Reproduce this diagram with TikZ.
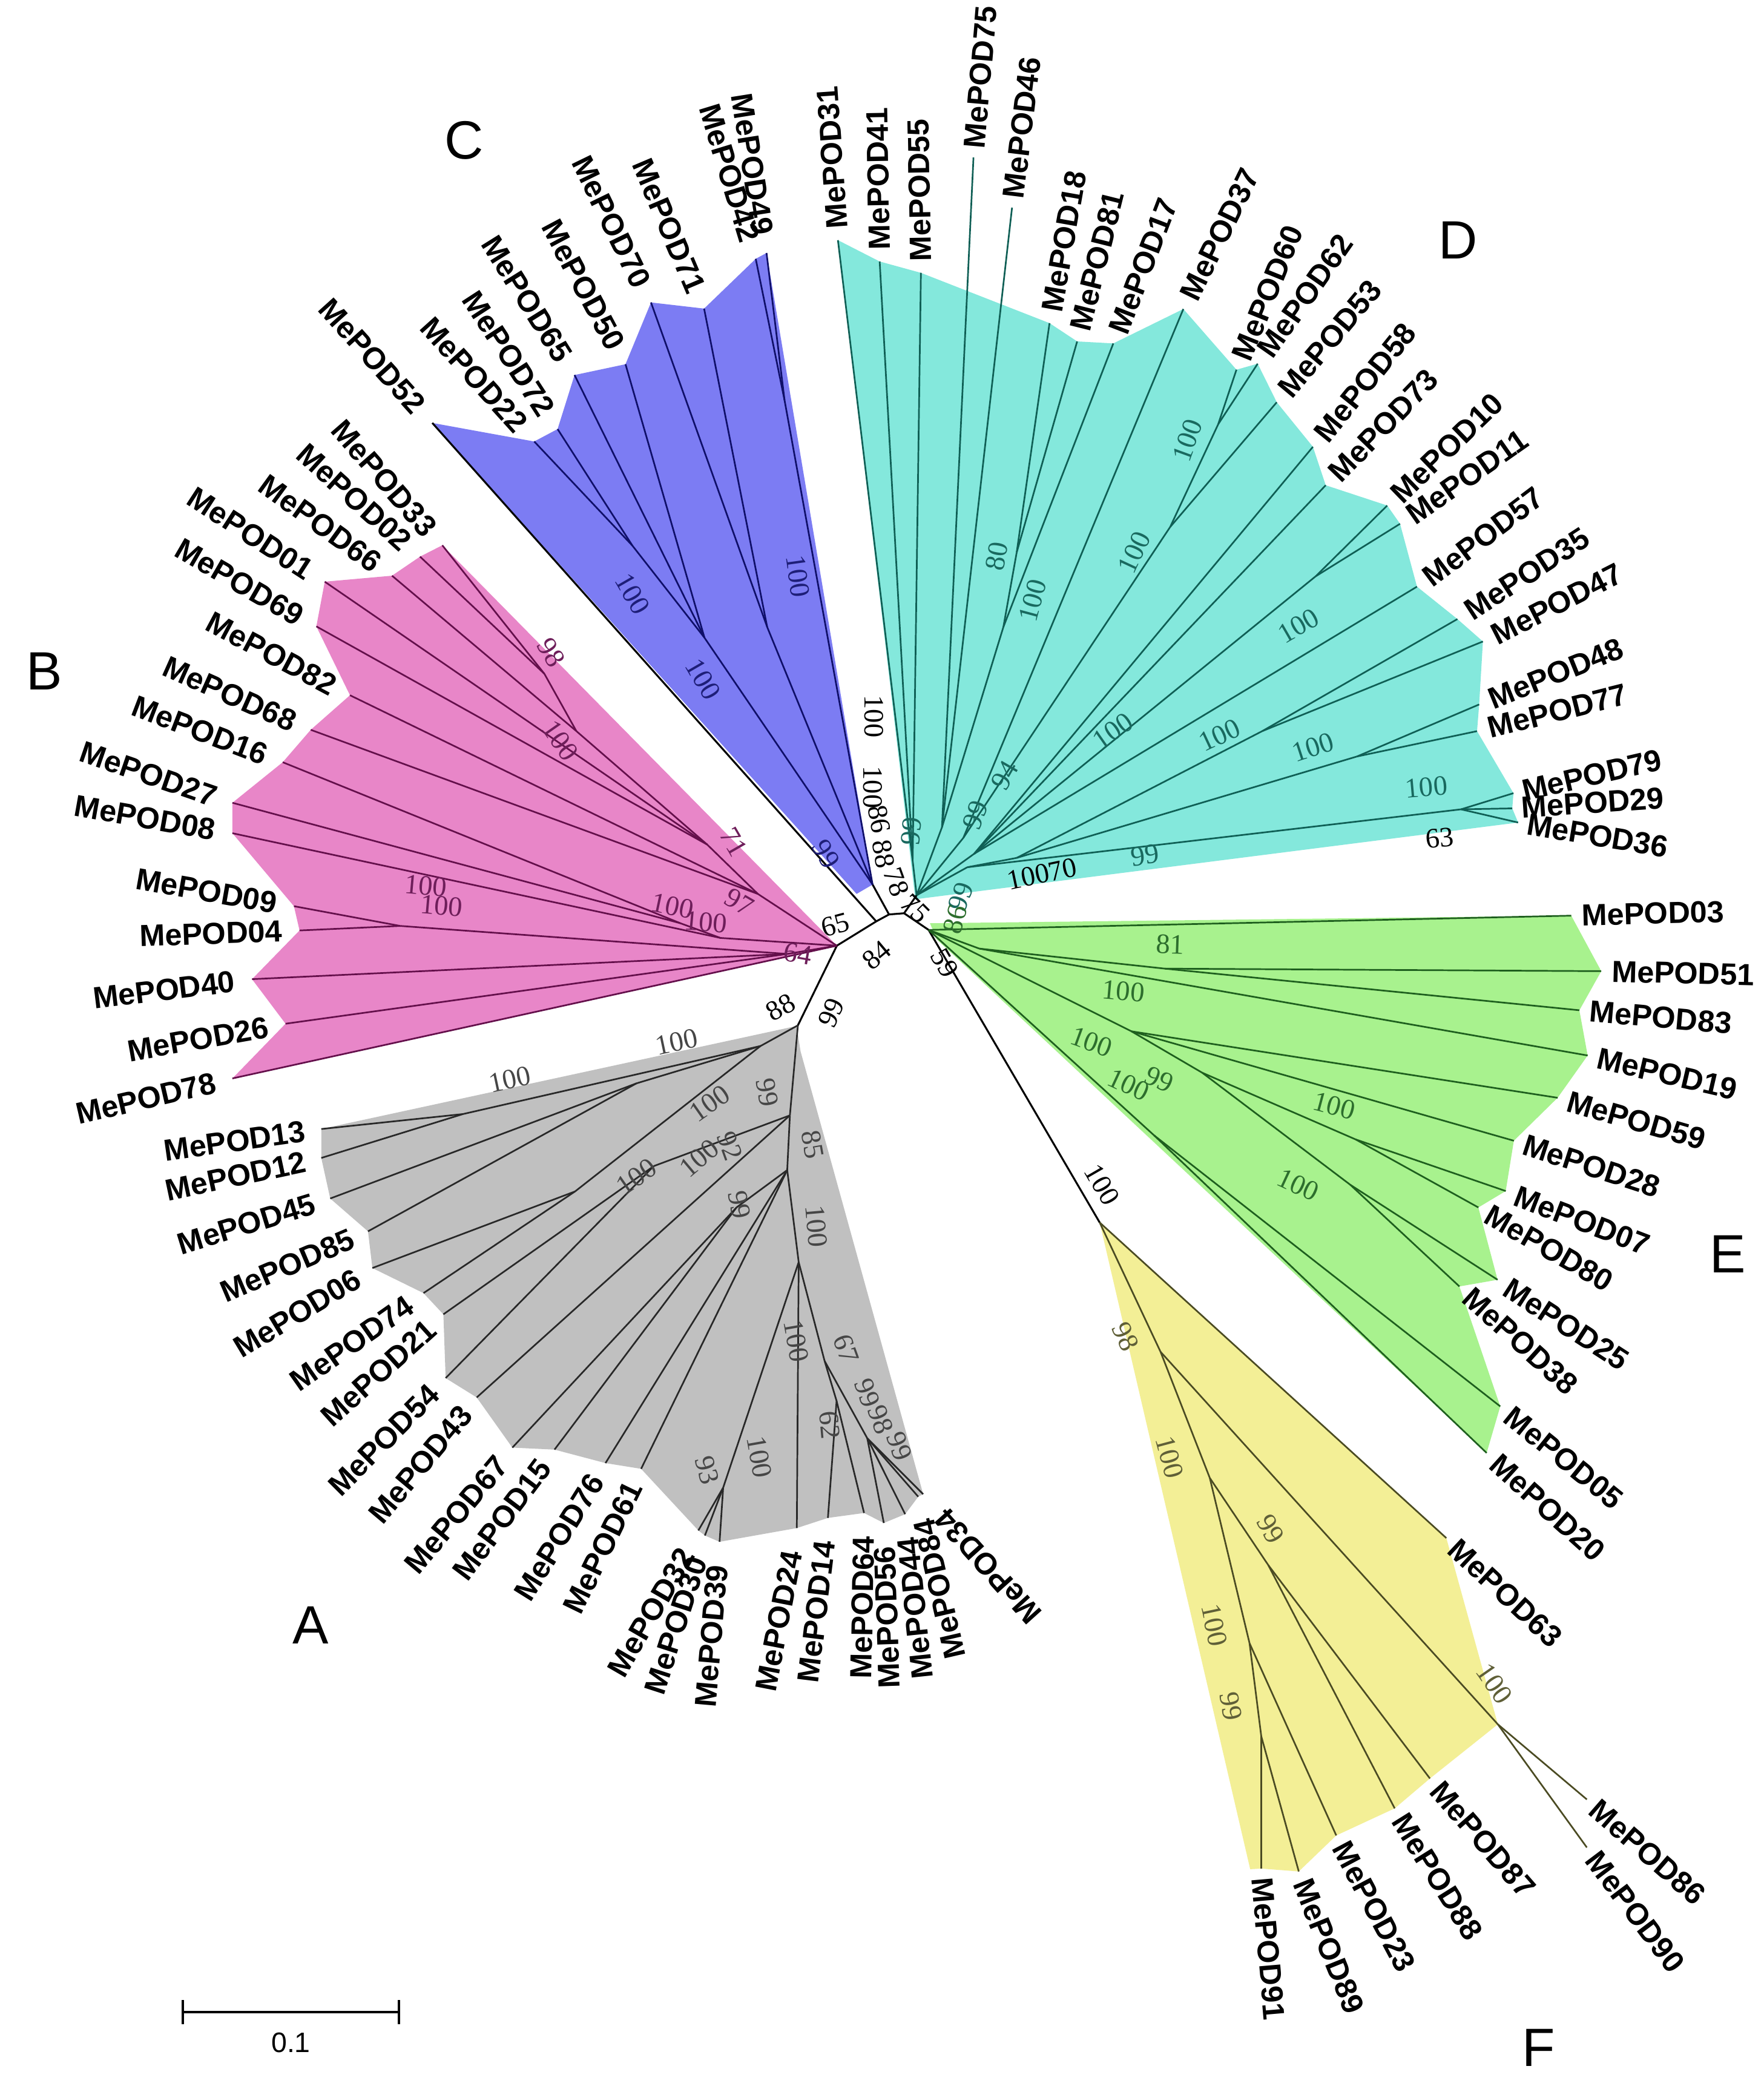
\documentclass[tikz,border=0pt]{standalone}
\usepackage{fontspec}
\setmainfont{Liberation Serif}
\newfontfamily\lsans{Liberation Sans}
\pgfdeclarelayer{bgfill}
\pgfdeclarelayer{branches}
\pgfsetlayers{bgfill,branches,main}
\definecolor{fillA}{RGB}{192,192,192}
\definecolor{fillB}{RGB}{232,134,200}
\definecolor{fillC}{RGB}{124,124,243}
\definecolor{fillD}{RGB}{132,232,220}
\definecolor{fillE}{RGB}{168,242,142}
\definecolor{fillF}{RGB}{243,239,150}
\definecolor{lnA}{RGB}{40,40,40}
\definecolor{lnB}{RGB}{100,15,75}
\definecolor{lnC}{RGB}{15,15,105}
\definecolor{lnD}{RGB}{15,95,85}
\definecolor{lnE}{RGB}{30,95,30}
\definecolor{lnF}{RGB}{75,75,35}
\definecolor{txA}{RGB}{70,70,70}
\definecolor{txB}{RGB}{110,30,90}
\definecolor{txC}{RGB}{30,30,120}
\definecolor{txD}{RGB}{25,105,95}
\definecolor{txE}{RGB}{45,110,45}
\definecolor{txF}{RGB}{95,95,55}
\tikzset{
 tiplab/.style={font=\lsans\bfseries\fontsize{13}{15}\selectfont,inner sep=2pt},
 bslab/.style={font=\fontsize{12}{14}\selectfont,inner sep=0pt},
 grplab/.style={font=\lsans\fontsize{23}{26}\selectfont,inner sep=0pt},
 brA/.style={draw=lnA,line width=0.7pt},
 brB/.style={draw=lnB,line width=0.7pt},
 brC/.style={draw=lnC,line width=0.7pt},
 brD/.style={draw=lnD,line width=0.7pt},
 brE/.style={draw=lnE,line width=0.7pt},
 brF/.style={draw=lnF,line width=0.7pt},
 brK/.style={draw=black,line width=0.8pt},
}
\newcommand{\tipW}[5]{\coordinate (t#1) at (#2,#3);\node[tiplab,rotate=#4,anchor=west,outer sep=#5] (L#1) at (t#1) {MePOD#1};}
\newcommand{\tipE}[5]{\coordinate (t#1) at (#2,#3);\node[tiplab,rotate=#4,anchor=east,outer sep=#5] (L#1) at (t#1) {MePOD#1};}
\newcommand{\bsl}[6]{\node[bslab,text=#5,rotate=#4] (#1) at (#2,#3) {#6};}
\newcommand{\edg}[2]{\foreach \ua/\ub in {#2}{\draw[#1] (\ua) -- (\ub);}}
\begin{document}
\begin{tikzpicture}[x=0.02cm,y=-0.02cm]
\begin{pgfonlayer}{bgfill}
\fill[white] (0,0) rectangle (1322,1568);
\end{pgfonlayer}
\useasboundingbox (0,0) rectangle (1322,1568);

% ---------- internal nodes ----------
\coordinate (nA) at (598,768.5);
\coordinate (nB) at (627.2,708.8);
\coordinate (n2) at (656.7,690.6);
\coordinate (n3) at (666.3,685.4);
\coordinate (cR) at (654,663);
\coordinate (n4) at (677.6,684.5);
\coordinate (dR) at (687,671);
\coordinate (n5) at (696,697);
\coordinate (fR) at (824.2,916.3);
% A
\coordinate (aN2) at (570,784);
\coordinate (a12) at (347,835);
\coordinate (aP) at (477,812);
\coordinate (aQ) at (431,893);
\coordinate (aX) at (592,836);
\coordinate (aR) at (490,874);
\coordinate (aY) at (590,877);
\coordinate (aS) at (552,905);
\coordinate (aZ) at (598.6,946);
\coordinate (a93) at (542,1115);
\coordinate (aW) at (618,1020);
\coordinate (aV) at (627,1050);
\coordinate (aU) at (650,1078);
\coordinate (aTop) at (597,769);
\coordinate (aRt) at (600,788);
% B
\coordinate (bA) at (408,505);
\coordinate (bB) at (432,548);
\coordinate (bC) at (530,633);
\coordinate (bD) at (568,670);
\coordinate (bE) at (510,692);
\coordinate (bF) at (540,703);
\coordinate (bG) at (590,715);
\coordinate (b9) at (300,694);
% C
\coordinate (cA) at (474,409);
\coordinate (cB) at (528,478);
\coordinate (cF) at (575,470);
\coordinate (cG) at (588,300);
\coordinate (cL) at (642,670);
% D
\coordinate (dA) at (684,645);
\coordinate (dB) at (706,620);
\coordinate (dN) at (752,470);
\coordinate (dC) at (762,414);
\coordinate (dE) at (722,628);
\coordinate (dM) at (877,395);
\coordinate (dF) at (913,318);
\coordinate (dG) at (730,640);
\coordinate (dH) at (986,432);
\coordinate (dQ) at (725,650);
\coordinate (dK) at (1095,606.6);
\coordinate (dR2) at (762,643);
\coordinate (dO) at (946,548);
\coordinate (dP) at (1017,567);
\coordinate (dBot) at (686,674);
% E
\coordinate (eB) at (734,711);
\coordinate (eA) at (873,726);
\coordinate (eD) at (848,773);
\coordinate (eE) at (901,804);
\coordinate (eF) at (1016,854);
\coordinate (eG) at (1012,888);
\coordinate (eH) at (865,851);
\coordinate (eTop) at (697,692);
\coordinate (eBot) at (702,704);
% F
\coordinate (fA) at (869.8,1013.2);
\coordinate (fB) at (1122.6,1292.4);
\coordinate (fC) at (906.7,1107.7);
\coordinate (fD) at (950.5,1173);
\coordinate (fE) at (936.5,1231.6);
\coordinate (fF) at (945.3,1301.4);
\coordinate (fL) at (937,1401);

% ---------- tips: A ----------
\tipE{13}{240.8}{846.2}{8}{5pt}
\tipE{12}{240.8}{867.9}{12}{5pt}
\tipE{45}{247.5}{898.3}{17}{5pt}
\tipE{85}{275.8}{922.9}{23}{5pt}
\tipE{06}{279.1}{950.4}{31}{5pt}
\tipE{74}{317.4}{969.2}{35}{5pt}
\tipE{21}{332.3}{985.1}{42}{5pt}
\tipE{54}{334}{1032.9}{45}{5pt}
\tipE{43}{357.3}{1047.4}{50}{5pt}
\tipE{67}{384}{1085}{50}{5pt}
\tipE{15}{415.6}{1086.5}{53}{5pt}
\tipE{76}{453.8}{1096.6}{58}{5pt}
\tipE{61}{480.5}{1100.9}{64}{5pt}
\tipE{32}{523.4}{1147.1}{60}{8pt}
\tipE{30}{528.3}{1150.9}{72}{8pt}
\tipE{39}{539.3}{1155.6}{85}{8pt}
\tipE{24}{597.2}{1145.3}{79}{8pt}
\tipE{14}{620.5}{1137.7}{83}{8pt}
\tipE{64}{647.6}{1134}{89}{8pt}
\tipE{56}{662.4}{1141.5}{92}{8pt}
\tipE{44}{678.4}{1134.9}{96}{8pt}
\tipE{84}{688.2}{1121.8}{103}{8pt}
\tipE{34}{691.9}{1119.9}{132}{9pt}
% ---------- tips: B ----------
\tipE{33}{331.5}{408.7}{-49}{5.5pt}
\tipE{02}{314.8}{417.2}{-42}{5.5pt}
\tipE{66}{293.8}{431.5}{-36}{5.5pt}
\tipE{01}{243.4}{436}{-33}{5.5pt}
\tipE{69}{237.1}{469.5}{-30}{5.5pt}
\tipE{82}{262.3}{521.1}{-28}{5.5pt}
\tipE{68}{232.9}{547}{-24}{5.5pt}
\tipE{16}{211.9}{571.3}{-21}{5.5pt}
\tipE{27}{174.2}{601.7}{-19}{5.5pt}
\tipE{08}{174.2}{624.5}{-10}{5.5pt}
\tipE{09}{220.3}{679.2}{-10}{5.5pt}
\tipE{04}{224.5}{697.4}{2}{5.5pt}
\tipE{40}{188.9}{733.9}{7}{5.5pt}
\tipE{26}{214}{767.3}{10}{5.5pt}
\tipE{78}{174.2}{808.3}{13}{5.5pt}
% ---------- tips: C ----------
\tipE{52}{324}{317}{-48}{6pt}
\tipE{22}{400.4}{330.9}{-48}{6pt}
\tipE{72}{417.9}{321.6}{-57}{6pt}
\tipE{65}{430.6}{281.1}{-58}{6pt}
\tipE{50}{468.8}{273}{-62}{6pt}
\tipE{70}{487.9}{226.7}{-64}{6pt}
\tipE{71}{527.7}{231.3}{-67}{6pt}
\tipE{42}{566.4}{194}{-73}{6pt}
\tipE{49}{574.5}{189.6}{-81}{6pt}
% ---------- tips: D ----------
\tipW{31}{628}{180}{94}{3pt}
\tipW{41}{659.3}{196}{91}{3pt}
\tipW{55}{690.2}{204.5}{91}{3pt}
\tipW{75}{729.6}{118}{85}{2pt}
\tipW{46}{758.5}{155.6}{83}{2pt}
\tipW{18}{786.6}{242.2}{80}{3pt}
\tipW{81}{807.3}{255.9}{76}{3pt}
\tipW{17}{834.4}{257.4}{69}{3pt}
\tipW{37}{886.9}{231.6}{64}{3pt}
\tipW{60}{926.7}{277.1}{68}{3pt}
\tipW{62}{942.6}{272.6}{55}{3pt}
\tipW{53}{956.9}{301.5}{50}{3pt}
\tipW{58}{984}{334.9}{51}{3pt}
\tipW{73}{993.6}{363.7}{46}{3pt}
\tipW{10}{1039.7}{378.9}{44}{3pt}
\tipW{11}{1049.3}{392.6}{35}{3pt}
\tipW{57}{1062}{439.7}{37}{3pt}
\tipW{35}{1092.3}{464}{33}{3pt}
\tipW{47}{1111.4}{480.8}{27}{3pt}
\tipW{48}{1108.6}{528}{22}{3pt}
\tipW{77}{1107}{548}{14}{3pt}
\tipW{79}{1134.3}{594.5}{13}{2pt}
\tipW{29}{1133.4}{605.9}{4}{2pt}
\tipW{36}{1137.8}{616.5}{-9.5}{2pt}
% ---------- tips: E ----------
\tipW{03}{1177.6}{686.3}{1.5}{2.5pt}
\tipW{51}{1200.1}{727.9}{-1.5}{2.5pt}
\tipW{83}{1183.7}{757.2}{-5}{2.5pt}
\tipW{19}{1189.9}{791.1}{-13}{2.5pt}
\tipW{59}{1167.4}{822.8}{-16}{2.5pt}
\tipW{28}{1134.6}{855}{-18}{2.5pt}
\tipW{07}{1128.5}{892.7}{-21}{2.5pt}
\tipW{80}{1108}{905}{-30}{2.5pt}
\tipW{25}{1122.4}{959.2}{-33}{2.5pt}
\tipW{38}{1093.8}{964.2}{-42}{2.5pt}
\tipW{05}{1124.4}{1054.1}{-39}{2.5pt}
\tipW{20}{1114.2}{1089}{-42}{2.5pt}
% ---------- tips: F ----------
\tipW{63}{1084}{1152.8}{-43}{2pt}
\tipW{86}{1189.3}{1348.7}{-41}{2pt}
\tipW{90}{1189.3}{1384.7}{-53}{2pt}
\tipW{87}{1071.7}{1333}{-49}{2pt}
\tipW{88}{1045.3}{1355.4}{-58}{2pt}
\tipW{23}{1001.5}{1375.7}{-62}{2pt}
\tipW{89}{973.4}{1402.7}{-68}{2pt}
\tipW{91}{945.3}{1400.5}{-85}{2pt}

% ---------- clade fills ----------
\begin{pgfonlayer}{bgfill}
\fill[fillA] (aTop) -- (t13) -- (t12) -- (t45) -- (t85) -- (t06) -- (t74) -- (t21) -- (t54) -- (t43) -- (t67) -- (t15) -- (t76) -- (t61) -- (t32) -- (t30) -- (t39) -- (t24) -- (t14) -- (t64) -- (t56) -- (t44) -- (t84) -- (t34) -- (aRt) -- cycle;
\fill[fillB] (nB) -- (t33) -- (t02) -- (t66) -- (t01) -- (t69) -- (t82) -- (t68) -- (t16) -- (t27) -- (t08) -- (t09) -- (t04) -- (t40) -- (t26) -- (t78) -- cycle;
\fill[fillC] (t52) -- (t22) -- (t72) -- (t65) -- (t50) -- (t70) -- (t71) -- (t42) -- (t49) -- (cR) -- (cL) -- cycle;
\fill[fillD] (dBot) -- (t31) -- (t41) -- (t55) -- (t18) -- (t81) -- (t17) -- (t37) -- (t60) -- (t62) -- (t53) -- (t58) -- (t73) -- (t10) -- (t11) -- (t57) -- (t35) -- (t47) -- (t48) -- (t77) -- (t79) -- (t29) -- (t36) -- cycle;
\fill[fillE] (eTop) -- (t03) -- (t51) -- (t83) -- (t19) -- (t59) -- (t28) -- (t07) -- (t80) -- (t25) -- (t38) -- (t05) -- (t20) -- (eBot) -- cycle;
\fill[fillF] (fR) -- (t63) -- (fB) -- (t87) -- (t88) -- (t23) -- (t89) -- (t91) -- (fL) -- cycle;
\end{pgfonlayer}

% ---------- branches ----------
\begin{pgfonlayer}{branches}
\edg{brK}{nA/nB,nB/n2,n2/n3,n3/cR,n3/n4,n4/dR,n4/n5,n5/fR,n2/t52}
\edg{brA}{nA/aN2,aN2/a12,a12/t13,a12/t12,aN2/aP,aP/t45,aP/t85,aN2/aQ,aQ/t06,aQ/t74,
 nA/aX,aX/aR,aR/t21,aR/t54,aX/t43,aX/aY,aY/aS,aS/t67,aS/t15,aY/t76,aY/t61,
 aY/aZ,aZ/a93,a93/t32,a93/t30,a93/t39,aZ/t24,aZ/aW,aW/aV,aV/t14,aV/t64,aW/aU,aU/t56,aU/t44,aU/t84,aU/t34}
\edg{brB}{nB/bD,bD/bC,bC/bB,bB/bA,bA/t33,bA/t02,bB/t66,bC/t01,bC/t69,bD/t82,bD/t68,
 nB/bF,bF/bE,bE/t16,bE/t27,bF/t08,nB/bG,bG/b9,b9/t09,b9/t04,bG/t40,bG/t26,nB/t78}
\edg{brC}{cR/cB,cB/cA,cA/t22,cA/t72,cB/t65,cB/t50,cR/cF,cF/t70,cF/t71,cR/cG,cG/t42,cG/t49}
\edg{brD}{dR/dA,dA/t31,dA/t41,dA/t55,dR/dB,dB/t75,dB/t46,dB/dN,dN/dC,dC/t18,dC/t81,dN/t17,
 dR/dE,dE/t37,dE/dM,dM/dF,dF/t60,dF/t62,dM/t53,dR/dG,dG/t58,dG/t73,dG/dH,dH/t10,dH/t11,dG/t57,
 dR/dQ,dQ/dK,dK/t79,dK/t29,dK/t36,dQ/dR2,dR2/dO,dO/t35,dO/t47,dR2/dP,dP/t48,dP/t77}
\edg{brE}{n5/t03,n5/eB,eB/eA,eA/t51,eA/t83,eB/t19,n5/eD,eD/t59,eD/t28,eD/eE,eE/eF,eF/t07,eF/t80,
 eE/eG,eG/t25,eG/t38,n5/eH,eH/t05,eH/t20}
\edg{brF}{fR/t63,fR/fA,fA/fB,fB/t86,fB/t90,fA/fC,fC/fD,fD/t87,fD/t88,fC/fE,fE/fF,fF/t91,fF/t89,fE/t23}
\end{pgfonlayer}

% ---------- bootstrap values ----------
\bsl{s1}{585}{755}{30}{black}{88}
\bsl{s2}{623}{759}{65}{black}{99}
\bsl{s3}{657}{716}{40}{black}{84}
\bsl{s4}{626}{693}{15}{black}{65}
\bsl{s5}{655}{537}{-90}{black}{100}
\bsl{s6}{654}{590}{-90}{black}{100}
\bsl{s7}{659}{614}{-80}{black}{86}
\bsl{s8}{662}{640}{-80}{black}{88}
\bsl{s9}{672}{661}{-70}{black}{78}
\bsl{s10}{686}{681}{-45}{black}{75}
\bsl{s11}{720}{672}{70}{txD}{99}
\bsl{s12}{716}{689}{75}{txE}{86}
\bsl{s13}{708}{722}{-60}{black}{59}
\bsl{s14}{826}{888}{-60}{black}{100}
% C
\bsl{s15}{474}{445}{-60}{txC}{100}
\bsl{s16}{527}{509}{-60}{txC}{100}
\bsl{s17}{598}{432}{-82}{txC}{100}
\bsl{s18}{619}{640}{-60}{txC}{99}
% B
\bsl{s19}{413}{489}{-60}{txB}{98}
\bsl{s20}{420}{555}{-55}{txB}{100}
\bsl{s21}{550}{631}{-60}{txB}{71}
\bsl{s22}{554}{676}{-30}{txB}{97}
\bsl{s23}{504}{679}{-12}{txB}{100}
\bsl{s24}{529}{691}{-5}{txB}{100}
\bsl{s25}{319}{664}{-5}{txB}{100}
\bsl{s26}{331}{679}{-5}{txB}{100}
\bsl{s27}{598}{715}{-10}{txB}{64}
% D
\bsl{s28}{683}{623}{85}{txD}{99}
\bsl{s29}{731}{611}{70}{txD}{99}
\bsl{s30}{753}{581}{60}{txD}{94}
\bsl{s31}{747}{417}{80}{txD}{80}
\bsl{s32}{774}{450}{75}{txD}{100}
\bsl{s33}{890}{330}{70}{txD}{100}
\bsl{s34}{850}{414}{65}{txD}{100}
\bsl{s35}{973}{469}{30}{txD}{100}
\bsl{s36}{834}{548}{35}{txD}{100}
\bsl{s37}{914}{551}{25}{txD}{100}
\bsl{s38}{984}{560}{18}{txD}{100}
\bsl{s39}{1069}{590}{5}{txD}{100}
\bsl{s40}{1079}{628}{5}{black}{63}
\bsl{s41}{858}{641}{8}{txD}{99}
\bsl{s42}{781}{655}{12}{black}{10070}
% E
\bsl{s43}{877}{708}{-2}{txE}{81}
\bsl{s44}{842}{743}{-5}{txE}{100}
\bsl{s45}{818}{781}{-20}{txE}{100}
\bsl{s46}{846}{813}{-25}{txE}{100}
\bsl{s47}{869}{809}{-25}{txE}{99}
\bsl{s48}{1000}{829}{-15}{txE}{100}
\bsl{s49}{973}{888}{-25}{txE}{100}
% F
\bsl{s50}{843.5}{1002}{-65}{txF}{98}
\bsl{s51}{876.8}{1092}{-75}{txF}{100}
\bsl{s52}{952.3}{1146}{-60}{txF}{99}
\bsl{s53}{910.2}{1218}{-78}{txF}{100}
\bsl{s54}{922.5}{1279}{-80}{txF}{99}
\bsl{s55}{1120}{1262}{-55}{txF}{100}
% A
\bsl{s56}{507}{781}{12}{txA}{100}
\bsl{s57}{382}{809}{12}{txA}{100}
\bsl{s58}{532}{827}{35}{txA}{100}
\bsl{s59}{477}{882}{35}{txA}{100}
\bsl{s60}{524}{868}{40}{txA}{100}
\bsl{s61}{547}{859}{-70}{txA}{92}
\bsl{s62}{554}{903}{-80}{txA}{99}
\bsl{s63}{575}{819}{-80}{txA}{99}
\bsl{s64}{609}{858}{-80}{txA}{85}
\bsl{s65}{612}{919}{-85}{txA}{100}
\bsl{s66}{597}{1005}{-80}{txA}{100}
\bsl{s67}{634}{1011}{-70}{txA}{67}
\bsl{s68}{622}{1068}{-85}{txA}{62}
\bsl{s69}{650}{1044}{-70}{txA}{99}
\bsl{s70}{660}{1064}{-70}{txA}{98}
\bsl{s71}{674}{1084}{-70}{txA}{99}
\bsl{s72}{530}{1102}{-75}{txA}{93}
\bsl{s73}{569}{1092}{-80}{txA}{100}

% ---------- group letters ----------
\node[grplab] (gA) at (233,1218) {A};
\node[grplab] (gB) at (33,503) {B};
\node[grplab] (gC) at (348,105) {C};
\node[grplab] (gD) at (1093,180) {D};
\node[grplab] (gE) at (1295,940) {E};
\node[grplab] (gF) at (1153,1535) {F};

% ---------- scale bar ----------
\coordinate (sbL) at (137,1508);
\coordinate (sbR) at (299,1508);
\coordinate (sbLt) at (137,1499);
\coordinate (sbLb) at (137,1517);
\coordinate (sbRt) at (299,1499);
\coordinate (sbRb) at (299,1517);
\draw[line width=1pt] (sbL) -- (sbR);
\draw[line width=1pt] (sbLt) -- (sbLb);
\draw[line width=1pt] (sbRt) -- (sbRb);
\node[font=\lsans\fontsize{12}{14}\selectfont,inner sep=0pt] (sbText) at (218,1531) {0.1};
\end{tikzpicture}
\end{document}
